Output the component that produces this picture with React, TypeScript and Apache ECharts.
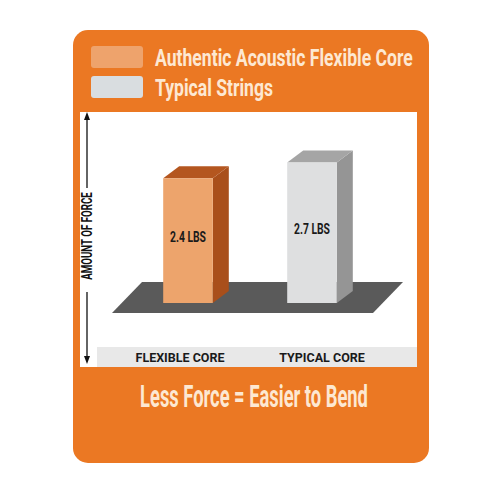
import React, { useEffect, useRef } from "react";
import * as echarts from "echarts";

const categories = ["FLEXIBLE CORE", "TYPICAL CORE"];
const seriesNames = ["Authentic Acoustic Flexible Core", "Typical Strings"];
const forceLbs = [2.4, 2.7];
const footerText = "Less Force = Easier to Bend";
const axisTitle = "AMOUNT OF FORCE";

const COND = "Roboto, 'Liberation Sans', sans-serif";

// front / side / top faces for each bar
const faces = [
  { swatch: "#eea36c", front: "#eda46c", side: "#a94f1b", top: "#b4561f" },
  { swatch: "#d9dde0", front: "#dedfe0", side: "#959595", top: "#a5a5a5" },
];

const DX = 16;
const DY = 12;

// no condensed font installed: squeeze text horizontally to the wanted width
const measureCtx = document.createElement("canvas").getContext("2d")!;
const fitScale = (text: string, font: string, width: number) => {
  measureCtx.font = font;
  return width / measureCtx.measureText(text).width;
};

const makeRender = (f: typeof faces[0]) => (params: any, api: any) => {
  const x = api.value(0);
  const v = api.value(1);
  const top = api.coord([x, v]);
  const base = api.coord([x, 0]);
  const bw = api.size([1, 0])[0] * 0.4;
  const x0 = top[0] - bw / 2;
  const x1 = top[0] + bw / 2;
  const label = `${v} LBS`;
  const font = `bold 15px ${COND}`;
  return {
    type: "group",
    children: [
      {
        type: "polygon",
        shape: { points: [[x1, top[1]], [x1 + DX, top[1] - DY], [x1 + DX, base[1] - DY], [x1, base[1]]] },
        style: { fill: f.side },
      },
      {
        type: "polygon",
        shape: { points: [[x0, top[1]], [x0 + DX, top[1] - DY], [x1 + DX, top[1] - DY], [x1, top[1]]] },
        style: { fill: f.top },
      },
      {
        type: "rect",
        shape: { x: x0, y: top[1], width: bw, height: base[1] - top[1] },
        style: { fill: f.front },
      },
      {
        type: "text",
        x: top[0],
        y: (top[1] + base[1]) / 2 - 4,
        scaleX: fitScale(label, font, 36),
        style: {
          text: label,
          x: 0,
          y: 0,
          align: "center",
          verticalAlign: "middle",
          fill: "#1a1a1a",
          font,
        },
      },
    ],
  };
};

const App: React.FC = () => {
  const chartRef = useRef<HTMLDivElement>(null);

  useEffect(() => {
    if (!chartRef.current) return;
    const myChart = echarts.init(chartRef.current, null, { renderer: "svg" });

    const legendFont = `bold 24px ${COND}`;
    const legendScale = fitScale(seriesNames[0], legendFont, 258);
    const footFont = `bold 31px ${COND}`;
    const footScale = fitScale(footerText, footFont, 228);
    const axisFont = `bold 15px ${COND}`;
    const axisScale = fitScale(axisTitle, axisFont, 88);

    const legendItems = seriesNames.flatMap((name, i) => [
      {
        type: "rect",
        shape: { x: 91, y: 46 + i * 30, width: 52, height: 22, r: 3 },
        style: { fill: faces[i].swatch },
      },
      {
        type: "text",
        x: 155,
        y: 57 + i * 30,
        scaleX: legendScale,
        style: { text: name, x: 0, y: 0, align: "left", verticalAlign: "middle", fill: "#fde8d2", font: legendFont },
      },
    ]);

    const option: any = {
      animation: false,
      backgroundColor: "#ffffff",
      grid: { left: 126, width: 248, top: 121, height: 182 },
      xAxis: {
        type: "category",
        data: categories,
        axisLine: { show: false },
        axisTick: { show: false },
        splitLine: { show: false },
        axisLabel: {
          interval: 0,
          margin: 54,
          verticalAlign: "middle",
          formatter: (v: string, i: number) => (i === 0 ? `{l|${v}}` : `{r|${v}}`),
          rich: {
            l: { fontSize: 12.5, fontWeight: "bold", fontFamily: COND, color: "#1a1a1a", padding: [0, 16, 0, 0] },
            r: { fontSize: 12.5, fontWeight: "bold", fontFamily: COND, color: "#1a1a1a", padding: [0, 0, 0, 20] },
          },
        },
      },
      yAxis: { type: "value", min: 0, max: 3.5, show: false, splitLine: { show: false } },
      graphic: [
        { type: "rect", shape: { x: 73, y: 30, width: 356, height: 433, r: 15 }, style: { fill: "#eb7823" }, z: -10 },
        { type: "rect", shape: { x: 80, y: 112, width: 337, height: 255 }, style: { fill: "#ffffff" }, z: -9 },
        { type: "rect", shape: { x: 97, y: 347, width: 320, height: 20 }, style: { fill: "#e8e8e8" }, z: -8 },
        {
          type: "polygon",
          shape: { points: [[112, 313], [142, 282], [403, 282], [373, 313]] },
          style: { fill: "#5a5a5a" },
          z: -7,
        },
        { type: "line", shape: { x1: 87, y1: 117, x2: 87, y2: 188 }, style: { stroke: "#111", lineWidth: 1.3 }, z: -6 },
        { type: "line", shape: { x1: 87, y1: 292, x2: 87, y2: 359 }, style: { stroke: "#111", lineWidth: 1.3 }, z: -6 },
        { type: "polygon", shape: { points: [[87, 112], [84, 120], [90, 120]] }, style: { fill: "#111" }, z: -6 },
        { type: "polygon", shape: { points: [[87, 364], [84, 356], [90, 356]] }, style: { fill: "#111" }, z: -6 },
        {
          type: "text",
          x: 87,
          y: 236,
          rotation: Math.PI / 2,
          scaleX: axisScale,
          style: { text: axisTitle, x: 0, y: 0, align: "center", verticalAlign: "middle", fill: "#111", font: axisFont },
          z: -6,
        },
        ...legendItems,
        {
          type: "text",
          x: 254,
          y: 396,
          scaleX: footScale,
          style: { text: footerText, x: 0, y: 0, align: "center", verticalAlign: "middle", fill: "#fde8d2", font: footFont },
        },
      ],
      series: seriesNames.map((name, i) => ({
        name,
        type: "custom",
        itemStyle: { color: faces[i].swatch },
        renderItem: makeRender(faces[i]),
        data: [[i, forceLbs[i]]],
      })),
    };

    myChart.setOption(option);
    return () => {
      myChart.dispose();
    };
  }, []);

  return (
    <div
      ref={chartRef}
      style={{ width: 500, height: 500, position: "absolute", left: 0, top: 0 }}
    />
  );
};

export default App;
